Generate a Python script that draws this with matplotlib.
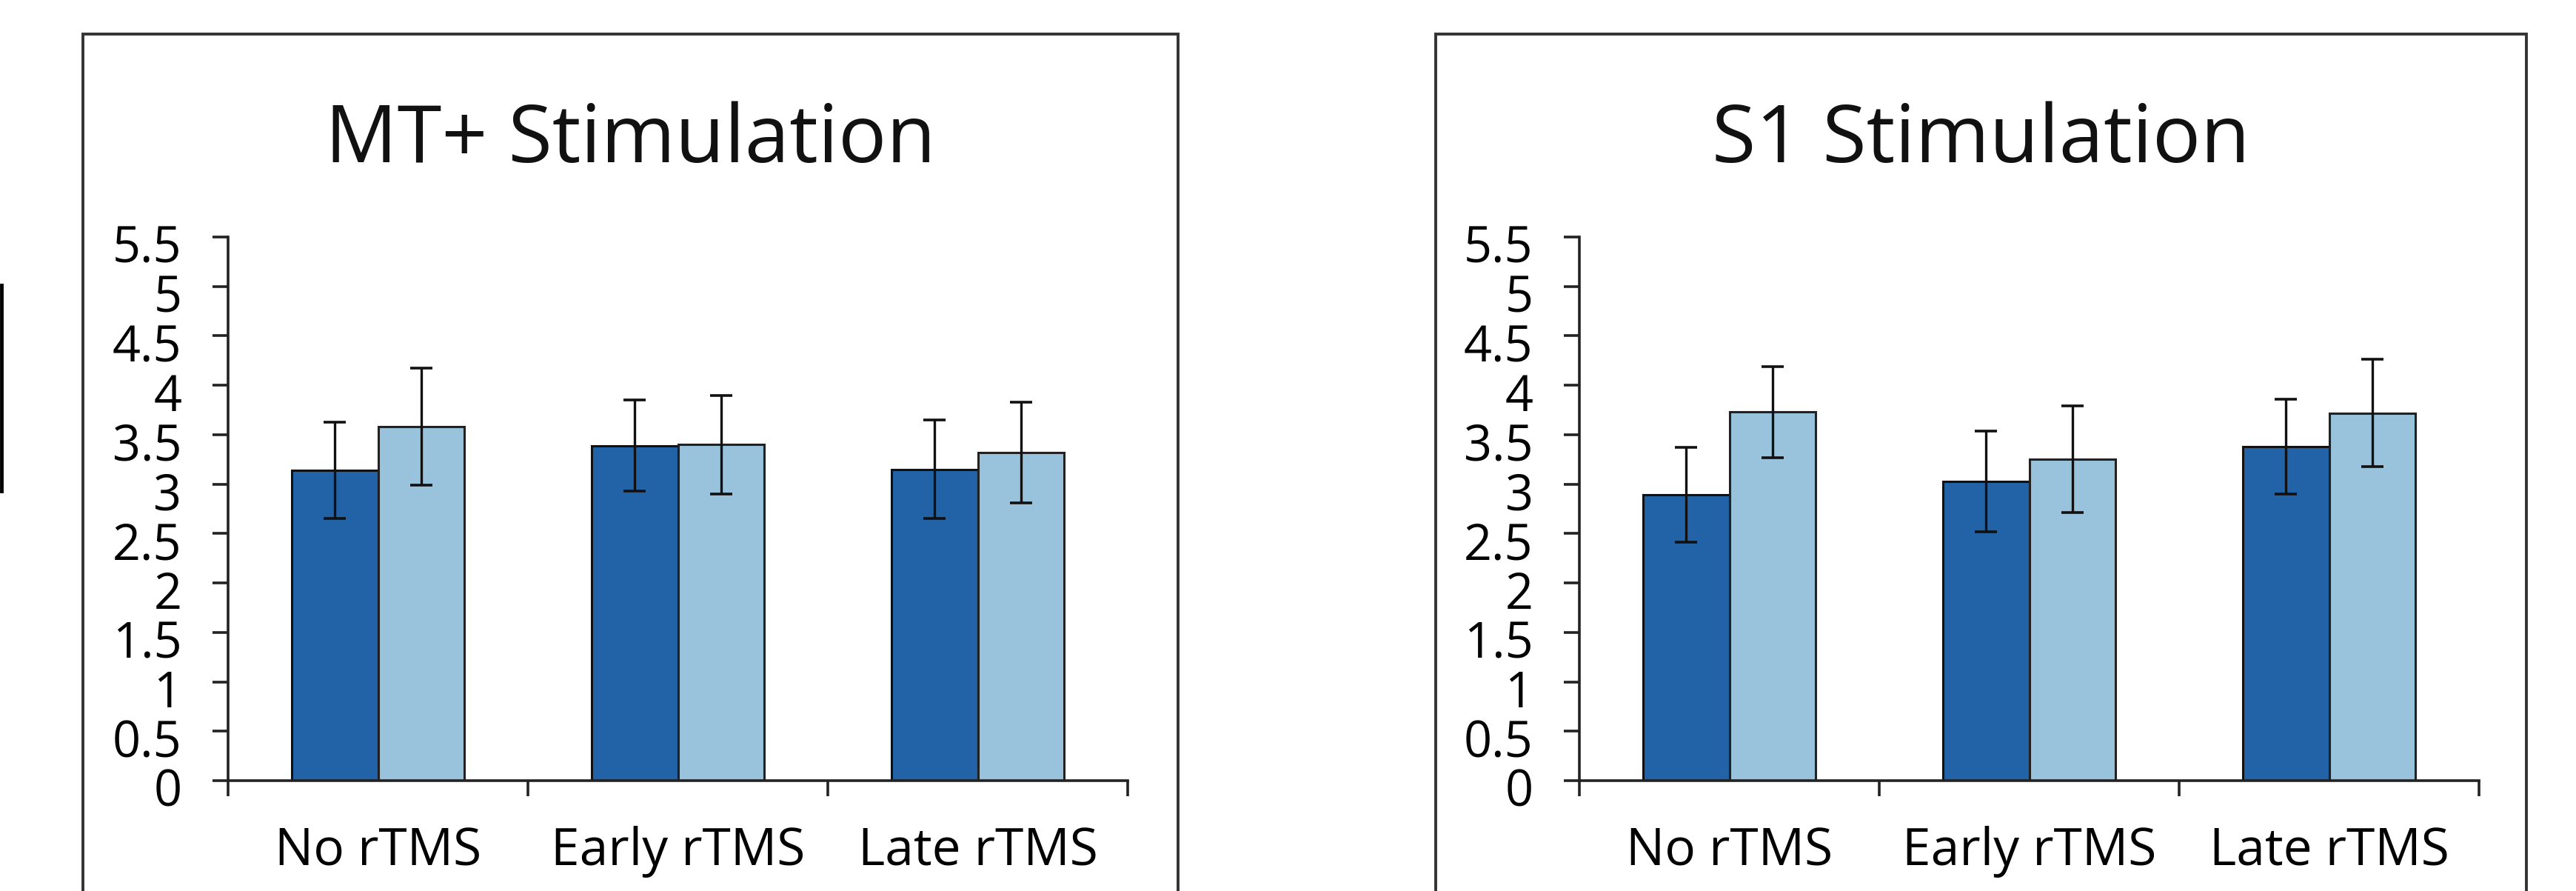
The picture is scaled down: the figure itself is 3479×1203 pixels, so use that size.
import matplotlib
matplotlib.use("Agg")
import matplotlib.pyplot as plt
from matplotlib.patches import Rectangle
from matplotlib.lines import Line2D
import matplotlib.transforms as mtransforms
import numpy as np

plt.rcParams['font.family'] = ['Open Sans', 'DejaVu Sans']

categories = ["No rTMS", "Early rTMS", "Late rTMS"]
panel_titles = ["MT+ Stimulation", "S1 Stimulation"]

mt_dark = [3.14, 3.39, 3.15]
mt_dark_err = [0.49, 0.46, 0.50]
mt_light = [3.58, 3.40, 3.32]
mt_light_err = [0.59, 0.50, 0.51]

s1_dark = [2.89, 3.03, 3.38]
s1_dark_err = [0.48, 0.51, 0.48]
s1_light = [3.73, 3.25, 3.72]
s1_light_err = [0.46, 0.54, 0.54]

yticks = [0, 0.5, 1, 1.5, 2, 2.5, 3, 3.5, 4, 4.5, 5, 5.5]
ytick_labels = ["0", "0.5", "1", "1.5", "2", "2.5", "3", "3.5", "4", "4.5", "5", "5.5"]

dark_color = "#2163a6"
light_color = "#99c3dd"

W, H = 3479, 1203
fig = plt.figure(figsize=(W / 100, H / 100), dpi=100)
fig.patch.set_facecolor("white")

def px(x):
    return x / W

def py(y):
    return 1 - y / H

panels = [
    dict(title=panel_titles[0], dark=mt_dark, dark_err=mt_dark_err, light=mt_light, light_err=mt_light_err,
         ax_left=308, frame=(112, 1591)),
    dict(title=panel_titles[1], dark=s1_dark, dark_err=s1_dark_err, light=s1_light, light_err=s1_light_err,
         ax_left=2133, frame=(1939, 3412)),
]

ax_w = 1215
ax_bottom_px = 1054
ax_top_px = 320
bw = 0.288

for p in panels:
    ax = fig.add_axes([px(p["ax_left"]), py(ax_bottom_px), ax_w / W, (ax_bottom_px - ax_top_px) / H])
    x = np.arange(len(categories))
    ax.bar(x - bw / 2, p["dark"], width=bw, color=dark_color, edgecolor="#111111", linewidth=2.2, zorder=2)
    ax.bar(x + bw / 2, p["light"], width=bw, color=light_color, edgecolor="#222222", linewidth=2.2, zorder=2)
    ax.errorbar(x - bw / 2, p["dark"], yerr=p["dark_err"], fmt="none", ecolor="#111111",
                elinewidth=2.4, capsize=10.5, capthick=2.6, zorder=3)
    ax.errorbar(x + bw / 2, p["light"], yerr=p["light_err"], fmt="none", ecolor="#111111",
                elinewidth=2.4, capsize=10.5, capthick=2.6, zorder=3)
    ax.set_xlim(-0.5, 2.5)
    ax.set_ylim(0, 5.5)
    for s in ["top", "right"]:
        ax.spines[s].set_visible(False)
    for s in ["left", "bottom"]:
        ax.spines[s].set_linewidth(2.6)
        ax.spines[s].set_color("#222222")
    ax.set_yticks(yticks)
    ax.set_yticklabels(ytick_labels)
    ax.tick_params(axis="y", length=15, width=2.6, color="#222222", pad=30, labelsize=48, direction="out")
    ax.set_xticks(x)
    ax.set_xticklabels(categories)
    ax.tick_params(axis="x", which="major", length=0, pad=44, labelsize=50)
    ax.set_xticks([-0.5, 0.5, 1.5, 2.5], minor=True)
    ax.tick_params(axis="x", which="minor", length=15, width=2.6, color="#222222", direction="out")
    # shift y tick labels slightly down as in reference
    offset = mtransforms.ScaledTranslation(0, -9 / 100, fig.dpi_scale_trans)
    for lab in ax.get_yticklabels():
        lab.set_transform(lab.get_transform() + offset)
    ax.set_facecolor("none")

    fl, fr = p["frame"]
    fig.patches.append(Rectangle((px(fl), -0.05), px(fr) - px(fl), py(46) + 0.05,
                                 transform=fig.transFigure, fill=False, edgecolor="#333333",
                                 linewidth=2.8, clip_on=False))
    fig.text(px((fl + fr) / 2), py(219), p["title"], ha="center", va="baseline", fontsize=78, color="#111111")

fig.lines.append(Line2D([px(2), px(2)], [py(385), py(663)], transform=fig.transFigure,
                        color="black", linewidth=3.5))

fig.savefig("out.png", dpi=100, facecolor="white")
